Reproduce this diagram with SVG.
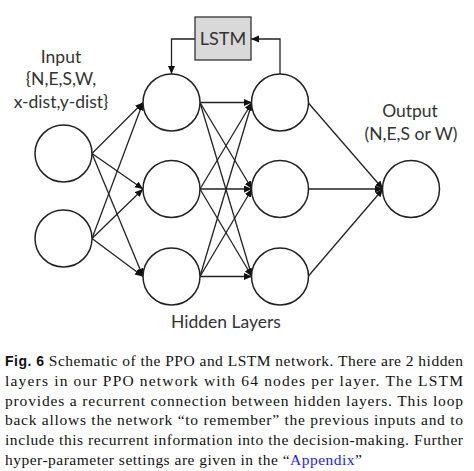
<svg xmlns="http://www.w3.org/2000/svg" width="474" height="471" viewBox="0 0 474 471">
<style>
.node{fill:#fff;stroke:#222;stroke-width:1.5}
.edge{stroke:#222;stroke-width:1.3;fill:none}
.lbl{font-family:Lato,"Open Sans",sans-serif;font-size:17.5px;fill:#333;text-anchor:middle}
.cap{font-family:"Liberation Serif",serif;font-size:15.5px;fill:#111}
</style>
<defs>
<marker id="ah" markerUnits="userSpaceOnUse" markerWidth="9" markerHeight="8" refX="8" refY="3.5" orient="auto">
<path d="M0,0 L8,3.5 L0,7 z" fill="#111"/>
</marker>
</defs>
<rect width="474" height="471" fill="#fff"/>
<g id="connectors" class="edge" marker-end="url(#ah)">
<path d="M92,153.5 L143,102.5"/><path d="M92,153.5 L143,189"/><path d="M92,153.5 L143,276.5"/>
<path d="M92,238.5 L143,102.5"/><path d="M92,238.5 L143,189"/><path d="M92,238.5 L143,276.5"/>
<path d="M200,102.5 L252,102.5"/><path d="M200,102.5 L252,189"/><path d="M200,102.5 L252,276.5"/>
<path d="M200,189 L252,102.5"/><path d="M200,189 L252,189"/><path d="M200,189 L252,276.5"/>
<path d="M200,276.5 L252,102.5"/><path d="M200,276.5 L252,189"/><path d="M200,276.5 L252,276.5"/>
<path d="M308,102.5 L383,189"/><path d="M308,189 L383,189"/><path d="M308,276.5 L383,189"/>
<path d="M280,74 L280,39 L251,39"/>
<path d="M195,39 L171.5,39 L171.5,74"/>
</g>
<g id="lstm">
<rect x="195" y="17" width="56" height="43" fill="#d9d9d9" stroke="#333" stroke-width="1.3"/>
<text x="223" y="45" class="lbl" style="font-size:18px">LSTM</text>
</g>
<g id="in1"><circle class="node" cx="63.5" cy="153.5" r="28.5"/></g>
<g id="in2"><circle class="node" cx="63.5" cy="238.5" r="28.5"/></g>
<g id="h1a"><circle class="node" cx="171.5" cy="102.5" r="28.5"/></g>
<g id="h1b"><circle class="node" cx="171.5" cy="189" r="28.5"/></g>
<g id="h1c"><circle class="node" cx="171.5" cy="276.5" r="28.5"/></g>
<g id="h2a"><circle class="node" cx="280" cy="102.5" r="28.5"/></g>
<g id="h2b"><circle class="node" cx="280" cy="189" r="28.5"/></g>
<g id="h2c"><circle class="node" cx="280" cy="276.5" r="28.5"/></g>
<g id="out"><circle class="node" cx="411" cy="189" r="28.5"/></g>
<g id="labels">
<text x="61" y="63" class="lbl">Input</text>
<text x="61" y="85" class="lbl">{N,E,S,W,</text>
<text x="61" y="108" class="lbl">x-dist,y-dist}</text>
<text x="410" y="117" class="lbl">Output</text>
<text x="411" y="140" class="lbl">(N,E,S or W)</text>
<text x="226" y="328" class="lbl">Hidden Layers</text>
</g>
<g id="caption" class="cap">
<text x="5" y="366" textLength="458" lengthAdjust="spacing"><tspan style="font-family:'Liberation Sans',sans-serif;font-weight:bold;font-size:14px">Fig. 6</tspan>  Schematic of the PPO and LSTM network. There are 2 hidden</text>
<text x="5" y="386" textLength="458" lengthAdjust="spacing">layers in our PPO network with 64 nodes per layer. The LSTM</text>
<text x="5" y="405.5" textLength="458" lengthAdjust="spacing">provides a recurrent connection between hidden layers. This loop</text>
<text x="5" y="425" textLength="458" lengthAdjust="spacing">back allows the network “to remember” the previous inputs and to</text>
<text x="5" y="445" textLength="458" lengthAdjust="spacing">include this recurrent information into the decision-making. Further</text>
<text x="5" y="464.5" textLength="357" lengthAdjust="spacing">hyper-parameter settings are given in the “<tspan fill="#1a1aff">Appendix</tspan>”</text>
</g>
</svg>
